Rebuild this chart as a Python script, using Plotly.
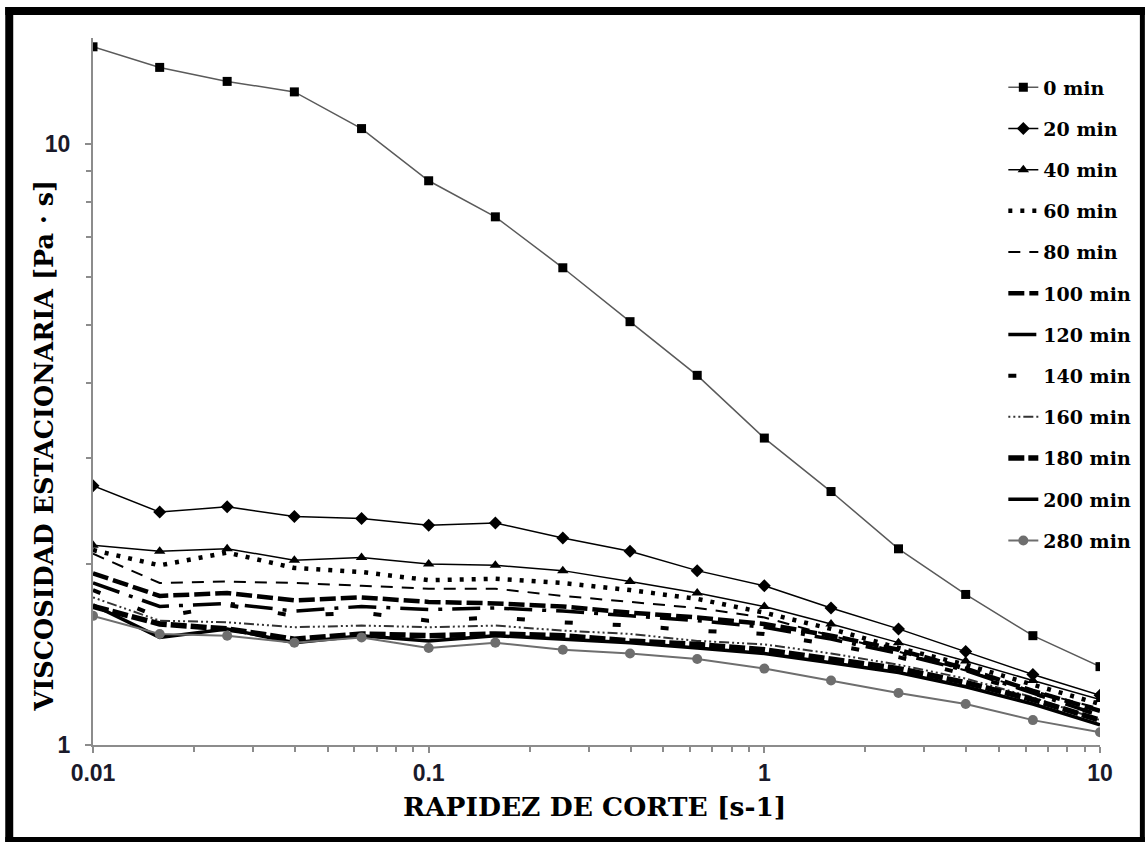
import plotly.graph_objects as go

# Shear rate [1/s] – five points per decade
shear_rate = [0.01, 0.0158, 0.0251, 0.0398, 0.0631, 0.1, 0.158, 0.251,
              0.398, 0.631, 1.0, 1.58, 2.51, 3.98, 6.31, 10.0]

# Steady-state viscosity [Pa·s] for each aging time
v_0 = [14.5, 13.4, 12.7, 12.2, 10.6, 8.68, 7.56, 6.22, 5.06, 4.12, 3.24, 2.64, 2.12, 1.78, 1.52, 1.35]
v_20 = [2.70, 2.44, 2.49, 2.40, 2.38, 2.32, 2.34, 2.21, 2.10, 1.95, 1.84, 1.69, 1.56, 1.43, 1.31, 1.21]
v_40 = [2.15, 2.10, 2.12, 2.03, 2.05, 2.00, 1.99, 1.95, 1.87, 1.79, 1.70, 1.59, 1.48, 1.38, 1.28, 1.19]
v_60 = [2.11, 1.99, 2.09, 1.97, 1.94, 1.88, 1.89, 1.86, 1.81, 1.75, 1.66, 1.56, 1.45, 1.36, 1.26, 1.17]
v_80 = [2.08, 1.86, 1.87, 1.86, 1.84, 1.82, 1.82, 1.77, 1.73, 1.69, 1.63, 1.52, 1.43, 1.33, 1.23, 1.15]
v_100 = [1.93, 1.77, 1.79, 1.74, 1.76, 1.73, 1.72, 1.70, 1.66, 1.63, 1.59, 1.52, 1.44, 1.34, 1.23, 1.14]
v_120 = [1.86, 1.70, 1.72, 1.67, 1.70, 1.68, 1.69, 1.67, 1.64, 1.61, 1.57, 1.50, 1.42, 1.33, 1.22, 1.12]
v_140 = [1.81, 1.63, 1.71, 1.64, 1.66, 1.61, 1.63, 1.60, 1.58, 1.55, 1.53, 1.47, 1.40, 1.31, 1.22, 1.12]
v_160 = [1.76, 1.61, 1.60, 1.57, 1.58, 1.57, 1.58, 1.55, 1.53, 1.49, 1.47, 1.42, 1.36, 1.29, 1.20, 1.10]
v_180 = [1.70, 1.59, 1.56, 1.50, 1.53, 1.52, 1.53, 1.52, 1.49, 1.47, 1.44, 1.39, 1.34, 1.27, 1.19, 1.10]
v_200 = [1.71, 1.51, 1.56, 1.48, 1.52, 1.49, 1.52, 1.50, 1.48, 1.45, 1.42, 1.37, 1.32, 1.25, 1.17, 1.08]
v_280 = [1.64, 1.53, 1.52, 1.48, 1.51, 1.45, 1.48, 1.44, 1.42, 1.39, 1.34, 1.28, 1.22, 1.17, 1.10, 1.05]

x_tick_vals = [0.01, 0.1, 1, 10]
x_tick_text = ["0.01", "0.1", "1", "10"]
y_tick_vals = [1, 10]
y_tick_text = ["1", "10"]

# Minor tick positions: 2..9 within each decade
x_minor_vals = [m * d for d in (0.01, 0.1, 1) for m in range(2, 10)]
y_minor_vals = [m for m in range(2, 10)]

series = [
    ("0 min", v_0, dict(color="#5a5a5a", width=1.5), dict(symbol="square", size=9, color="black")),
    ("20 min", v_20, dict(color="black", width=1.5), dict(symbol="diamond", size=10, color="black")),
    ("40 min", v_40, dict(color="black", width=1.5), dict(symbol="triangle-up", size=10, color="black")),
    ("60 min", v_60, dict(color="black", width=4.5, dash="4px,8px"), None),
    ("80 min", v_80, dict(color="black", width=2, dash="12px,9px"), None),
    ("100 min", v_100, dict(color="black", width=4.5, dash="16px,5px"), None),
    ("120 min", v_120, dict(color="black", width=3.5, dash="28px,10px,4px,10px"), None),
    ("140 min", v_140, dict(color="black", width=4, dash="8px,40px"), None),
    ("160 min", v_160, dict(color="#333333", width=2,
                            dash="2px,3px,2px,3px,2px,3px,10px,3px"), None),
    ("180 min", v_180, dict(color="black", width=5.5, dash="16px,4px"), None),
    ("200 min", v_200, dict(color="black", width=3.5), None),
    ("280 min", v_280, dict(color="#6e6e6e", width=2), dict(symbol="circle", size=10, color="#6e6e6e")),
]

fig = go.Figure()
for i, (name, vals, line, marker) in enumerate(series):
    fig.add_trace(go.Scatter(
        x=shear_rate, y=vals, name=name,
        mode="lines+markers" if marker else "lines",
        line=line, marker=marker,
        legendgroup=f"g{i}",
    ))

serif = "DejaVu Serif"
axis_grey = "#8c8c8c"
tick_font = dict(family="Liberation Sans", size=23, color="#1a1a2a", weight="bold")

fig.update_layout(
    width=1148, height=842,
    margin=dict(l=93, r=45, t=38, b=97),
    paper_bgcolor="white", plot_bgcolor="white",
    showlegend=True,
    legend=dict(
        x=0.904, xanchor="left", y=0.957, yanchor="top",
        font=dict(family=serif, size=19, color="black", weight="bold"),
        tracegroupgap=13.5, bgcolor="rgba(0,0,0,0)",
        itemwidth=30,
    ),
    xaxis=dict(
        type="log", range=[-2, 1],
        tickmode="array", tickvals=x_tick_vals, ticktext=x_tick_text,
        ticks="outside", ticklen=6, tickwidth=2, tickcolor=axis_grey,
        minor=dict(ticks="outside", ticklen=5, tickwidth=2, tickcolor=axis_grey,
                   tickmode="array", tickvals=x_minor_vals),
        showline=True, linecolor=axis_grey, linewidth=2,
        showgrid=False, zeroline=False,
        tickfont=tick_font, ticklabelstandoff=0,
    ),
    yaxis=dict(
        type="log", range=[0, 1.176],
        tickmode="array", tickvals=y_tick_vals, ticktext=y_tick_text,
        ticks="outside", ticklen=6, tickwidth=2, tickcolor=axis_grey,
        minor=dict(ticks="outside", ticklen=5, tickwidth=2, tickcolor=axis_grey,
                   tickmode="array", tickvals=y_minor_vals),
        showline=True, linecolor=axis_grey, linewidth=2,
        showgrid=False, zeroline=False,
        tickfont=tick_font, ticklabelstandoff=10,
    ),
)

# Axis titles
fig.add_annotation(text="RAPIDEZ DE CORTE [s-1]", xref="paper", yref="paper",
                   x=0.498, y=-0.087, showarrow=False,
                   font=dict(family=serif, size=26.5, color="black", weight="bold"),
                   xanchor="center", yanchor="middle")
fig.add_annotation(text="VISCOSIDAD ESTACIONARIA [Pa · s]", xref="paper", yref="paper",
                   x=-0.0485, y=0.424, showarrow=False,
                   font=dict(family=serif, size=25.5, color="black", weight="bold"),
                   textangle=-90, xanchor="center", yanchor="middle")

# Heavy black frame around the whole figure (paper coords relative to plot area)
pw, ph = 1010.0, 707.0
def px_x(p):
    return (p - 93) / pw
def px_y(p):
    return (745 - p) / ph

frame = [
    (5, 7, 13, 842),      # left
    (5, 7, 1148, 15),     # top
    (1143, 7, 1148, 842), # right
    (5, 837, 1148, 842),  # bottom
]
for x0, y0, x1, y1 in frame:
    fig.add_shape(type="rect", xref="paper", yref="paper",
                  x0=px_x(x0), x1=px_x(x1), y0=px_y(y0), y1=px_y(y1),
                  fillcolor="black", line=dict(width=0), layer="above")

fig.write_html("out.html")
